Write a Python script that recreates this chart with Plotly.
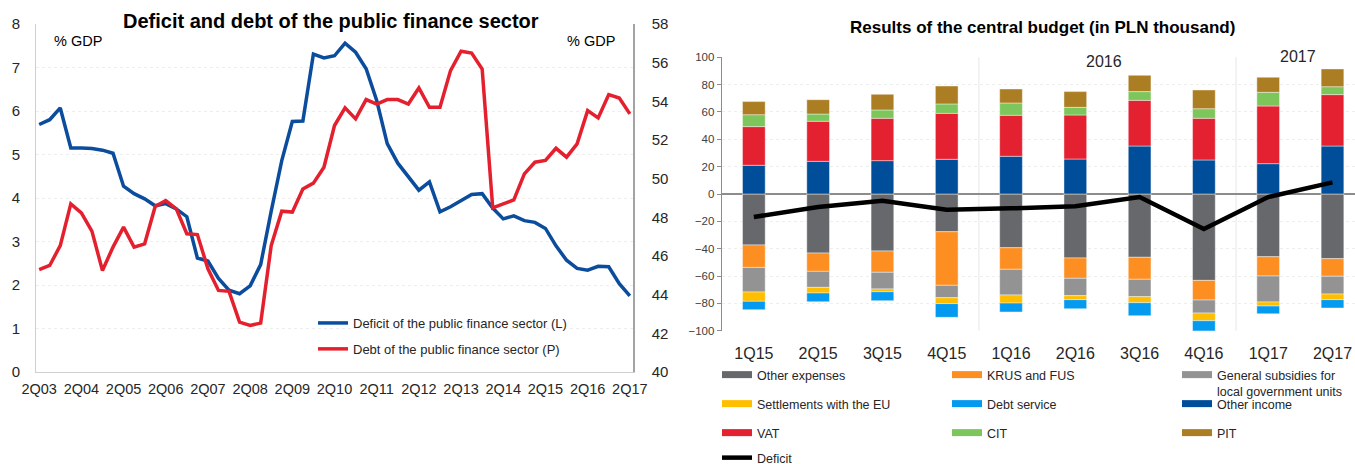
import plotly.graph_objects as go

# ---------------- data: left chart ----------------
quarters = ["2Q03", "3Q03", "4Q03", "1Q04", "2Q04", "3Q04", "4Q04", "1Q05", "2Q05", "3Q05",
            "4Q05", "1Q06", "2Q06", "3Q06", "4Q06", "1Q07", "2Q07", "3Q07", "4Q07", "1Q08",
            "2Q08", "3Q08", "4Q08", "1Q09", "2Q09", "3Q09", "4Q09", "1Q10", "2Q10", "3Q10",
            "4Q10", "1Q11", "2Q11", "3Q11", "4Q11", "1Q12", "2Q12", "3Q12", "4Q12", "1Q13",
            "2Q13", "3Q13", "4Q13", "1Q14", "2Q14", "3Q14", "4Q14", "1Q15", "2Q15", "3Q15",
            "4Q15", "1Q16", "2Q16", "3Q16", "4Q16", "1Q17", "2Q17"]
deficit_gdp = [5.69, 5.80, 6.07, 5.15, 5.15, 5.14, 5.10, 5.03, 4.27, 4.10,
               3.98, 3.82, 3.87, 3.75, 3.57, 2.62, 2.55, 2.15, 1.88, 1.80,
               1.98, 2.47, 3.70, 4.86, 5.76, 5.77, 7.31, 7.22, 7.27, 7.56,
               7.35, 6.97, 6.24, 5.25, 4.80, 4.50, 4.18, 4.37, 3.68, 3.80,
               3.95, 4.08, 4.10, 3.77, 3.52, 3.59, 3.48, 3.44, 3.30, 2.90,
               2.57, 2.38, 2.34, 2.43, 2.42, 2.03, 1.75]
debt_gdp = [45.29, 45.51, 46.54, 48.70, 48.23, 47.29, 45.25, 46.46, 47.49, 46.46,
            46.63, 48.56, 48.87, 48.44, 47.15, 47.11, 45.34, 44.22, 44.17, 42.58,
            42.41, 42.53, 46.54, 48.32, 48.27, 49.47, 49.77, 50.59, 52.75, 53.66,
            53.09, 54.09, 53.86, 54.09, 54.09, 53.86, 54.69, 53.69, 53.69, 55.59,
            56.59, 56.50, 55.67, 48.49, 48.70, 48.90, 50.25, 50.85, 50.94, 51.57,
            51.11, 51.80, 53.52, 53.14, 54.35, 54.17, 53.35]
left_tick_labels = quarters[::4]

# ---------------- data: right chart ----------------
budget_quarters = ["1Q15", "2Q15", "3Q15", "4Q15", "1Q16", "2Q16", "3Q16", "4Q16", "1Q17", "2Q17"]
other_expenses = [-37.3, -43.2, -41.7, -27.6, -39.3, -46.8, -46.3, -63.2, -45.9, -47.3]
krus_fus = [-16.4, -13.4, -15.6, -39.2, -15.8, -14.9, -16.1, -14.4, -14.1, -12.9]
general_subsidies = [-18.0, -11.7, -12.2, -9.1, -18.8, -12.7, -12.7, -9.5, -19.0, -13.0]
settlements_eu = [-6.8, -4.1, -2.0, -4.3, -5.9, -2.9, -4.4, -5.6, -3.0, -4.1]
debt_service = [-6.1, -6.4, -6.5, -10.0, -6.5, -6.6, -9.5, -8.8, -5.6, -6.1]
other_income = [21.0, 23.9, 24.4, 25.4, 27.6, 25.6, 35.1, 24.9, 22.2, 35.1]
vat = [28.3, 29.3, 31.0, 33.6, 30.0, 32.2, 33.4, 30.5, 42.2, 37.6]
cit = [8.7, 5.3, 6.1, 6.9, 9.0, 5.6, 6.4, 7.0, 10.0, 5.8]
pit = [9.6, 10.5, 11.4, 13.1, 10.2, 11.5, 11.9, 13.7, 11.0, 13.0]
budget_deficit = [-16.8, -9.5, -4.9, -11.5, -10.5, -9.0, -2.2, -25.6, -2.2, 8.5]

# ---------------- styling ----------------
W, H = 1355, 464
FONT = "Liberation Sans, Arial, sans-serif"
TXT = "#262626"


def px(xp):
    return xp / W


def py(yp):
    return (H - yp) / H


fig = go.Figure()

# left chart lines
fig.add_trace(go.Scatter(x=quarters, y=deficit_gdp, mode="lines", name="Deficit of the public finance sector (L)",
                         line=dict(color="#0b4c9c", width=3.5), xaxis="x", yaxis="y",
                         legend="legend", legendgroup="a"))
fig.add_trace(go.Scatter(x=quarters, y=debt_gdp, mode="lines", name="Debt of the public finance sector (P)",
                         line=dict(color="#e5202e", width=3.5), xaxis="x", yaxis="y2",
                         legend="legend", legendgroup="b"))

# right chart bars
series = [
    ("Other expenses", other_expenses, "#66686c", "legend2"),
    ("KRUS and FUS", krus_fus, "#fd8f22", "legend2"),
    ("General subsidies for<br>local government units", general_subsidies, "#939393", "legend2"),
    ("Settlements with the EU", settlements_eu, "#ffbe00", "legend3"),
    ("Debt service", debt_service, "#049af0", "legend3"),
    ("Other income", other_income, "#004d9a", "legend3"),
    ("VAT", vat, "#e42131", "legend4"),
    ("CIT", cit, "#7cc65b", "legend4"),
    ("PIT", pit, "#ac7e23", "legend4"),
]
for name, vals, col, _ in series:
    fig.add_trace(go.Bar(x=budget_quarters, y=vals, name=name, marker=dict(color=col,
                         line=dict(color="rgba(255,255,255,0.7)", width=0.6)),
                         xaxis="x2", yaxis="y3", showlegend=False))
# legend entries (wide swatches like the original)
for name, vals, col, lg in series:
    fig.add_trace(go.Scatter(x=[None], y=[None], mode="lines", name=name,
                             line=dict(color=col, width=7), xaxis="x2", yaxis="y3",
                             legend=lg, hoverinfo="skip"))

fig.add_trace(go.Scatter(x=budget_quarters, y=budget_deficit, mode="lines", name="Deficit",
                         line=dict(color="black", width=4.5), xaxis="x2", yaxis="y3",
                         legend="legend5"))

legend_common = dict(bgcolor="rgba(0,0,0,0)", borderwidth=0, xanchor="left", yanchor="top")
lfont_r = dict(family=FONT, size=12.5, color=TXT)

fig.update_layout(
    width=W, height=H,
    margin=dict(l=0, r=0, t=0, b=0, autoexpand=False),
    paper_bgcolor="white", plot_bgcolor="white",
    barmode="relative", bargap=0.647,
    font=dict(family=FONT, color=TXT),
    xaxis=dict(domain=[px(36), px(633)], type="category", categoryorder="array", categoryarray=quarters,
               range=[-0.3, 56.3], tickvals=left_tick_labels, ticktext=left_tick_labels,
               showline=True, linecolor="#cfcfcf", linewidth=1, ticks="outside", ticklen=4,
               tickcolor="rgba(0,0,0,0)", showgrid=False, tickfont=dict(size=14.5, color=TXT),
               fixedrange=True),
    yaxis=dict(domain=[py(372), py(24)], range=[0, 8], dtick=1, showline=True, linecolor="#cfcfcf",
               ticks="outside", ticklen=12, tickcolor="rgba(0,0,0,0)", showgrid=True,
               gridcolor="#eeeeee", griddash="dot", zeroline=False,
               tickfont=dict(family=FONT, size=15, color=TXT)),
    yaxis2=dict(overlaying="y", side="right", anchor="x", range=[40, 58], dtick=2, showline=True,
                linecolor="#a3a3a3", linewidth=1.5, ticks="outside", ticklen=14, tickcolor="rgba(0,0,0,0)",
                showgrid=False, zeroline=False,
                tickfont=dict(family=FONT, size=15, color=TXT)),
    xaxis2=dict(domain=[px(721.7), 1.0], anchor="y3", type="category", range=[-0.5, 9.35],
                showline=False, showgrid=False, ticks="outside", ticklen=8, tickcolor="rgba(0,0,0,0)",
                tickfont=dict(family=FONT, size=16, color=TXT)),
    yaxis3=dict(domain=[py(330.7), py(57.3)], anchor="x2", range=[-100, 100], dtick=20, showline=True,
                linecolor="#8c8c8c", ticks="outside", ticklen=4, tickcolor="#8c8c8c", showgrid=True,
                gridcolor="#eeeeee", griddash="dot", zeroline=True, zerolinecolor="#8c8c8c",
                zerolinewidth=1.5,
                tickfont=dict(family=FONT, size=11.5, color="#404040")),
    legend=dict(**legend_common, x=px(313), y=py(308), orientation="v", tracegroupgap=6,
                font=dict(family=FONT, size=13, color=TXT)),
    legend2=dict(**legend_common, x=px(717), y=py(360), orientation="h", entrywidth=185,
                 entrywidthmode="pixels", valign="top", font=lfont_r),
    legend3=dict(**legend_common, x=px(717), y=py(389), orientation="h", entrywidth=185,
                 entrywidthmode="pixels", font=lfont_r),
    legend4=dict(**legend_common, x=px(717), y=py(418), orientation="h", entrywidth=185,
                 entrywidthmode="pixels", font=lfont_r),
    legend5=dict(**legend_common, x=px(717), y=py(443), orientation="h", entrywidth=185,
                 entrywidthmode="pixels", font=lfont_r),
    shapes=[
        dict(type="line", xref="x2", yref="y3 domain", x0=3.5, x1=3.5, y0=0, y1=1,
             line=dict(color="#e6e6e6", width=1), layer="below"),
        dict(type="line", xref="x2", yref="y3 domain", x0=7.5, x1=7.5, y0=0, y1=1,
             line=dict(color="#e6e6e6", width=1), layer="below"),
    ],
    annotations=[
        dict(text="<b>Deficit and debt of the public finance sector</b>", x=px(331), y=py(21),
             xref="paper", yref="paper", showarrow=False, xanchor="center", yanchor="middle",
             font=dict(family=FONT, size=20, color="black")),
        dict(text="% GDP", x=px(52), y=py(41), xref="paper", yref="paper", showarrow=False,
             xanchor="left", yanchor="middle", font=dict(family=FONT, size=14.5, color="black")),
        dict(text="% GDP", x=px(565), y=py(41), xref="paper", yref="paper", showarrow=False,
             xanchor="left", yanchor="middle", font=dict(family=FONT, size=14.5, color="black")),
        dict(text="<b>Results of the central budget (in PLN thousand)</b>", x=px(1042), y=py(28),
             xref="paper", yref="paper", showarrow=False, xanchor="center", yanchor="middle",
             font=dict(family=FONT, size=17, color="black")),
        dict(text="2016", x=px(1104), y=py(62), xref="paper", yref="paper", showarrow=False,
             xanchor="center", yanchor="middle", font=dict(family=FONT, size=16, color=TXT)),
        dict(text="2017", x=px(1298), y=py(57), xref="paper", yref="paper", showarrow=False,
             xanchor="center", yanchor="middle", font=dict(family=FONT, size=16, color=TXT)),
    ],
)

fig.write_html("out.html")
